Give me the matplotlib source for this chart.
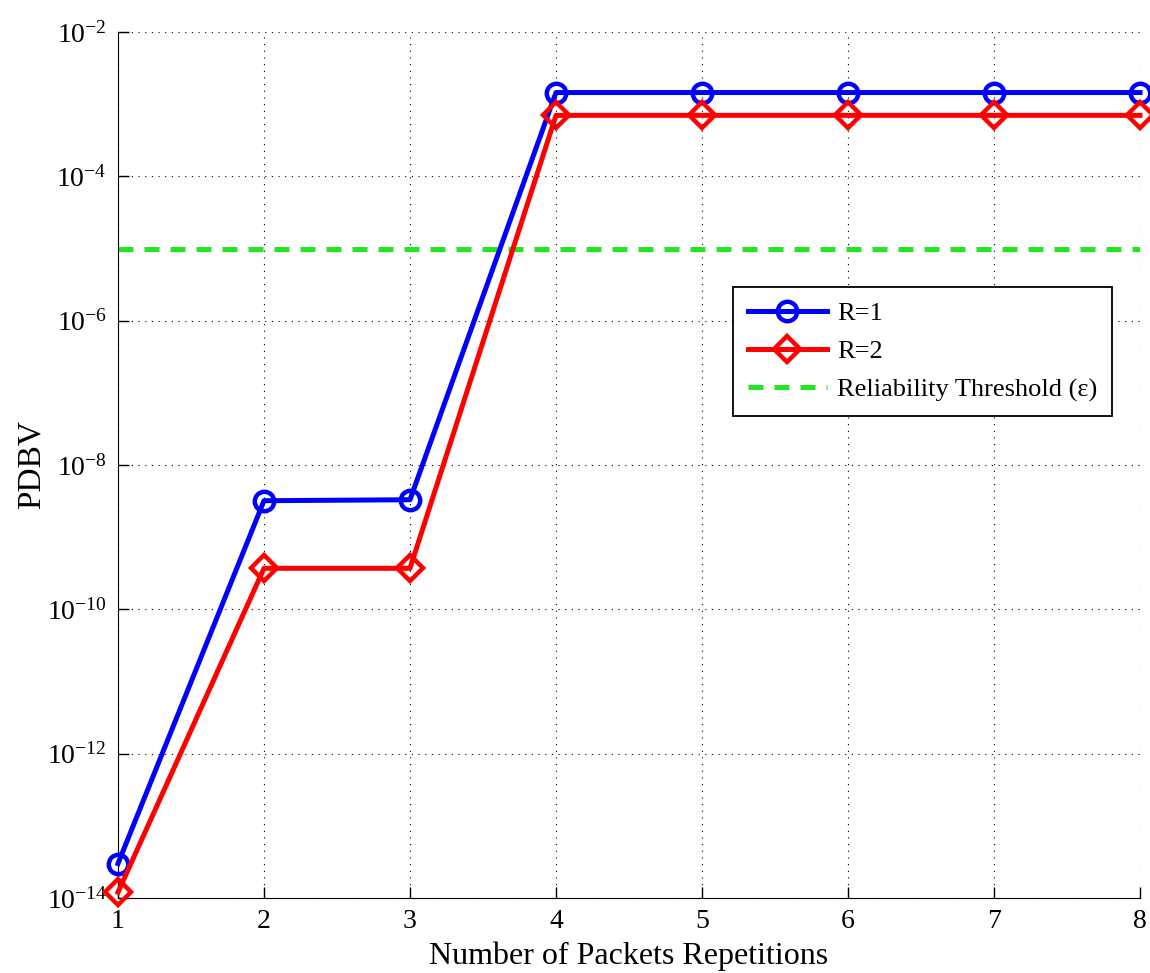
import numpy as np
import matplotlib.pyplot as plt

plt.rcParams['font.family'] = ['Liberation Serif', 'DejaVu Serif']
plt.rcParams['mathtext.fontset'] = 'stix'

# number of repetitions and PDBV per reliability level
reps = [1, 2, 3, 4, 5, 6, 7, 8]
pdbv_r1 = [3.0e-14, 3.2e-9, 3.3e-9, 1.45e-3, 1.45e-3, 1.45e-3, 1.45e-3, 1.45e-3]
pdbv_r2 = [1.2e-14, 3.7e-10, 3.7e-10, 7.0e-4, 7.0e-4, 7.0e-4, 7.0e-4, 7.0e-4]
threshold = 1e-5

fig = plt.figure(figsize=(11.5, 9.73), dpi=100)
ax = fig.add_axes([0.1026, 0.0771, 0.8887, 0.89])

ax.semilogy(reps, pdbv_r1, color='blue', lw=3.6, marker='o', ms=14,
            mfc='none', mew=3.2, label='R=1', clip_on=False, zorder=4)
ax.semilogy(reps, pdbv_r2, color='red', lw=3.6, marker='D', ms=13,
            mfc='none', mew=3.2, label='R=2', clip_on=False, zorder=4)
ax.axhline(threshold, color='#22e622', lw=3.6, ls=(0, (3, 2.2)),
           label='Reliability Threshold (ε)')

ax.set_xlim(1, 8)
ax.set_ylim(1e-14, 1e-2)
ax.set_xticks(reps)
ax.set_yticks([10.0**k for k in range(-14, -1, 2)])
ax.minorticks_off()
ax.grid(True, which='major', color='k', ls=(0, (1, 5)), lw=0.8)

ax.spines['top'].set_visible(False)
ax.spines['right'].set_visible(False)
ax.tick_params(direction='in', length=8, width=1, labelsize=20, pad=8)

ax.set_xlabel('Number of Packets Repetitions', fontsize=23, labelpad=5)
ax.set_ylabel('PDBV', fontsize=24, labelpad=0)

leg = ax.legend(loc='upper left', bbox_to_anchor=(0.602, 0.7055), fontsize=19,
                frameon=True, fancybox=False, edgecolor='k', framealpha=1,
                handlelength=3.0, borderpad=0.55, labelspacing=0.56,
                handletextpad=0.4, borderaxespad=0)
leg.get_frame().set_linewidth(1.3)

fig.savefig('out.png', dpi=100)
